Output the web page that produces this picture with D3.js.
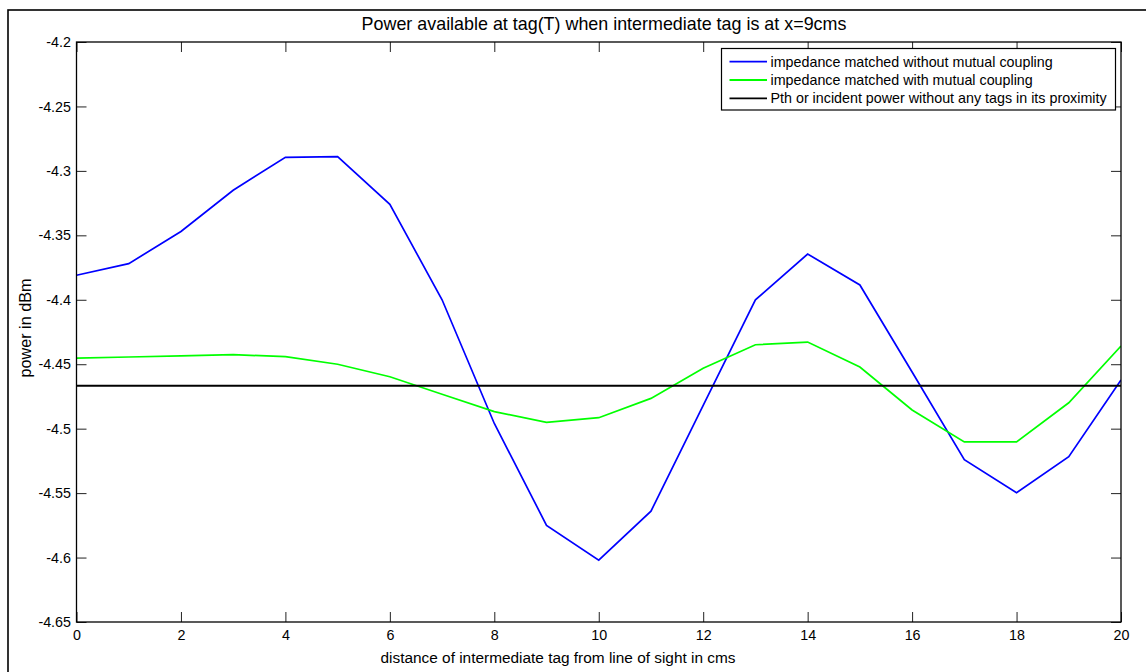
<!DOCTYPE html>
<html>
<head>
<meta charset="utf-8">
<script src="https://cdn.jsdelivr.net/npm/d3@7"></script>
<style>
  html, body { margin: 0; padding: 0; background: #fff; overflow: hidden; }
  svg { display: block; font-family: "Liberation Sans", Arial, sans-serif; }
</style>
</head>
<body>
<svg id="chart" width="1146" height="672"></svg>
<script>
// ---- data ----
const distance = [0,1,2,3,4,5,6,7,8,9,10,11,12,13,14,15,16,17,18,19,20];
const withoutCoupling = [-4.381,-4.372,-4.347,-4.315,-4.2895,-4.289,-4.326,-4.400,-4.496,-4.575,-4.602,-4.564,-4.482,-4.400,-4.3645,-4.3885,-4.456,-4.524,-4.5497,-4.5217,-4.4622];
const withCoupling = [-4.4452,-4.4444,-4.4436,-4.4426,-4.4441,-4.4500,-4.4597,-4.4733,-4.4868,-4.4951,-4.4915,-4.4765,-4.4532,-4.4349,-4.4328,-4.4522,-4.4855,-4.5103,-4.5103,-4.4799,-4.4359];
const pth = -4.4667;
const xTicks = [0,2,4,6,8,10,12,14,16,18,20];
const xTickLabels = ["0","2","4","6","8","10","12","14","16","18","20"];
const yTicks = [-4.2,-4.25,-4.3,-4.35,-4.4,-4.45,-4.5,-4.55,-4.6,-4.65];
const yTickLabels = ["-4.2","-4.25","-4.3","-4.35","-4.4","-4.45","-4.5","-4.55","-4.6","-4.65"];
const seriesNames = ["impedance matched without mutual coupling","impedance matched with mutual coupling","Pth or incident power without any tags in its proximity"];
const seriesColors = ["#0000ff","#00ff00","#000000"];
const titleText = "Power available at tag(T) when intermediate tag is at x=9cms";
const xLabelText = "distance of intermediate tag from line of sight in cms";
const yLabelText = "power in dBm";

// ---- layout ----
const L = 76.5, R = 1121, T = 42, B = 622;
const svg = d3.select("#chart");

// outer figure border
svg.append("rect").attr("x", 8).attr("y", 10).attr("width", 1160).attr("height", 700)
  .attr("fill", "none").attr("stroke", "#000").attr("stroke-width", 1.6);

const x = d3.scaleLinear().domain([0, 20]).range([L, R]);
const y = d3.scaleLinear().domain([-4.65, -4.2]).range([B, T]);

svg.append("rect").attr("x", L).attr("y", T).attr("width", R - L).attr("height", B - T).attr("fill", "#fff");

const fmtX = d => xTickLabels[xTicks.indexOf(d)];
const fmtY = d => yTickLabels[yTicks.indexOf(d)];

function styleAxis(g) {
  g.select(".domain").remove();
  g.selectAll(".tick line").attr("stroke", "#222").attr("stroke-width", 1);
  g.selectAll("text").attr("fill", "#000").style("font-size", "14.3px").style("font-family", "'Liberation Sans', Arial, sans-serif");
}

svg.append("g").attr("transform", `translate(0,${B})`)
  .call(d3.axisBottom(x).tickValues(xTicks).tickFormat(fmtX).tickSize(-10).tickPadding(8))
  .call(styleAxis);
svg.append("g").attr("transform", `translate(0,${T})`)
  .call(d3.axisTop(x).tickValues(xTicks).tickFormat("").tickSize(-10))
  .call(styleAxis);
svg.append("g").attr("transform", `translate(${L},0)`)
  .call(d3.axisLeft(y).tickValues(yTicks).tickFormat(fmtY).tickSize(-10).tickPadding(5.5))
  .call(styleAxis);
svg.append("g").attr("transform", `translate(${R},0)`)
  .call(d3.axisRight(y).tickValues(yTicks).tickFormat("").tickSize(-10))
  .call(styleAxis);

// lines
const line = d3.line().x((d, i) => x(distance[i])).y(d => y(d));
svg.append("clipPath").attr("id", "clip").append("rect")
  .attr("x", L).attr("y", T).attr("width", R - L).attr("height", B - T);
const plot = svg.append("g").attr("clip-path", "url(#clip)");
plot.append("path").datum(withoutCoupling).attr("d", line)
  .attr("fill", "none").attr("stroke", seriesColors[0]).attr("stroke-width", 1.7);
plot.append("path").datum(withCoupling).attr("d", line)
  .attr("fill", "none").attr("stroke", seriesColors[1]).attr("stroke-width", 1.7);
plot.append("line").attr("x1", x(0)).attr("x2", x(20)).attr("y1", y(pth)).attr("y2", y(pth))
  .attr("stroke", seriesColors[2]).attr("stroke-width", 1.8);

// box
svg.append("rect").attr("x", L).attr("y", T).attr("width", R - L).attr("height", B - T)
  .attr("fill", "none").attr("stroke", "#000").attr("stroke-width", 1.3);

// legend
const lg = svg.append("g");
lg.append("rect").attr("x", 721.5).attr("y", 48.5).attr("width", 394).attr("height", 61.5)
  .attr("fill", "#fff").attr("stroke", "#000").attr("stroke-width", 1.2);
seriesNames.forEach((name, i) => {
  const yy = 61.7 + i * 18.3;
  lg.append("line").attr("x1", 729.5).attr("x2", 767).attr("y1", yy).attr("y2", yy)
    .attr("stroke", seriesColors[i]).attr("stroke-width", 1.8);
  lg.append("text").attr("x", 770.5).attr("y", yy + 5).text(name)
    .style("font-size", "14.3px").attr("fill", "#000");
});

// title & labels
svg.append("text").attr("x", 604).attr("y", 30).attr("text-anchor", "middle")
  .style("font-size", "17.9px").text(titleText);
svg.append("text").attr("x", 558).attr("y", 663).attr("text-anchor", "middle")
  .style("font-size", "15.4px").text(xLabelText);
svg.append("text").attr("transform", `translate(31,328) rotate(-90)`).attr("text-anchor", "middle")
  .style("font-size", "16.2px").text(yLabelText);
</script>
</body>
</html>
